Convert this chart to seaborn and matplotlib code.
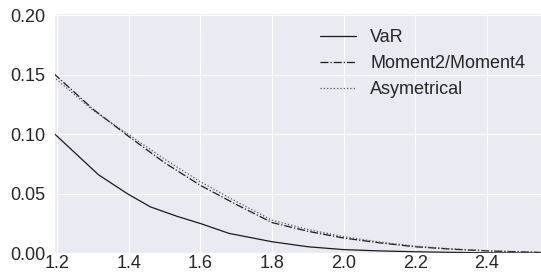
import numpy as np
import pandas as pd
import matplotlib
matplotlib.use("Agg")
import matplotlib.pyplot as plt
import seaborn as sns

# values
var_x = [1.19, 1.315, 1.396, 1.46, 1.535, 1.60, 1.68, 1.80, 1.90, 2.00, 2.10, 2.20, 2.30, 2.40, 2.55]
var_y = [0.101, 0.066, 0.050, 0.039, 0.031, 0.025, 0.0167, 0.0097, 0.0055, 0.0031, 0.002, 0.0013, 0.0008, 0.0004, 0.0002]

mom_x = [1.19, 1.30, 1.40, 1.50, 1.60, 1.70, 1.80, 1.90, 2.00, 2.10, 2.20, 2.30, 2.40, 2.55]
mom_y = [0.151, 0.121, 0.098, 0.076, 0.057, 0.041, 0.0258, 0.0185, 0.0128, 0.0088, 0.0055, 0.0035, 0.002, 0.0007]
asym_y = [0.148, 0.120, 0.0995, 0.079, 0.060, 0.0435, 0.0278, 0.020, 0.014, 0.0095, 0.006, 0.0038, 0.0022, 0.0008]

labels = ["VaR", "Moment2/Moment4", "Asymetrical"]

sns.set_style("darkgrid")
plt.rcParams["font.family"] = ["Liberation Sans", "DejaVu Sans"]

fig = plt.figure(figsize=(5.41, 2.75), dpi=100)
ax = fig.add_axes([54 / 541, (275 - 253.3) / 275, 1 - 54 / 541, (253.3 - 12.7) / 275])

sns.lineplot(x=var_x, y=var_y, ax=ax, color="#1a1a1a", linewidth=0.9, label=labels[0])
sns.lineplot(x=mom_x, y=mom_y, ax=ax, color="#1a1a1a", linewidth=0.9,
             linestyle="-.", label=labels[1])
sns.lineplot(x=mom_x, y=asym_y, ax=ax, color="#555555", linewidth=0.9,
             linestyle=":", label=labels[2])

ax.set_xlim(1.191, 2.551)
ax.set_ylim(0, 0.202)
ax.set_xticks([1.2, 1.4, 1.6, 1.8, 2.0, 2.2, 2.4])
ax.set_yticks([0.0, 0.05, 0.10, 0.15, 0.20])
ax.yaxis.set_major_formatter(matplotlib.ticker.FormatStrFormatter("%.2f"))
ax.tick_params(axis="both", labelsize=13, colors="#262626")
ax.tick_params(axis="x", pad=-2)
ax.tick_params(axis="y", pad=2.5)

ax.legend(loc="upper left", bbox_to_anchor=(0.512, 1.0), frameon=False,
          fontsize=13, handlelength=2.0, handletextpad=0.8, labelspacing=0.5)

fig.savefig("out.png", dpi=100)
